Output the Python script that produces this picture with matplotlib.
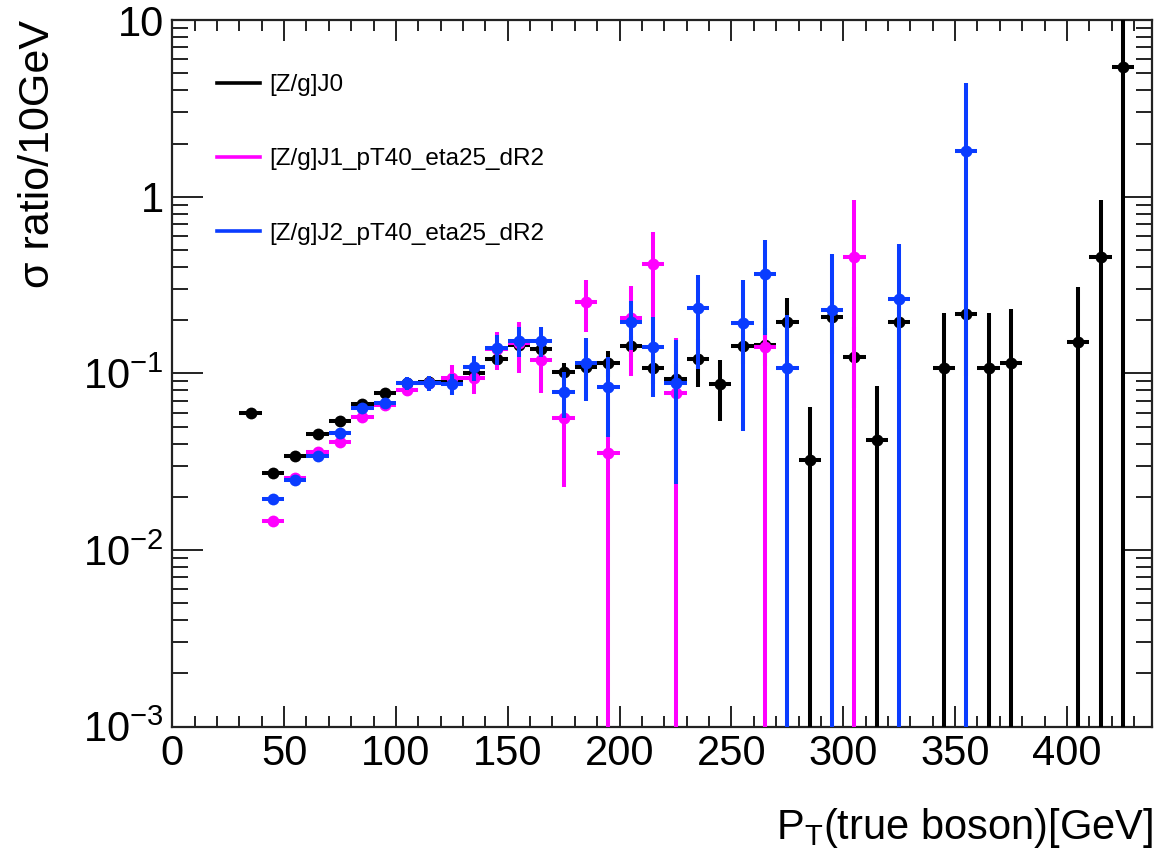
import numpy as np
import matplotlib
matplotlib.use("Agg")
import matplotlib.pyplot as plt
from matplotlib.lines import Line2D
from matplotlib.ticker import LogLocator, MultipleLocator, FuncFormatter, NullFormatter

plt.rcParams["font.family"] = ["Liberation Sans", "DejaVu Sans"]
plt.rcParams["mathtext.fontset"] = "custom"
plt.rcParams["mathtext.rm"] = "Liberation Sans"
plt.rcParams["mathtext.it"] = "Liberation Sans:italic"
plt.rcParams["mathtext.default"] = "regular"

# ---- data: bin centres [GeV], cross-section ratio per 10 GeV and its uncertainty ----
bin_half_width = 5.0

j0_pt = [35, 45, 55, 65, 75, 85, 95, 105, 115, 125, 135, 145, 155, 165, 175, 185, 195,
         205, 215, 225, 235, 245, 255, 265, 275, 285, 295, 305, 315, 325, 345, 355,
         365, 375, 405, 415, 425]
j0_val = [0.060, 0.0274, 0.0341, 0.0452, 0.054, 0.067, 0.077, 0.088, 0.089, 0.089,
          0.100, 0.121, 0.145, 0.137, 0.102, 0.109, 0.114, 0.1436, 0.107, 0.093,
          0.120, 0.0867, 0.1436, 0.145, 0.196, 0.0324, 0.209, 0.124, 0.042, 0.196,
          0.107, 0.217, 0.107, 0.114, 0.151, 0.454, 5.45]
j0_err = [0.002, 0.001, 0.001, 0.0015, 0.002, 0.002, 0.003, 0.003, 0.004, 0.005,
          0.006, 0.008, 0.010, 0.011, 0.012, 0.013, 0.019, 0.02, 0.02, 0.02,
          0.036, 0.033, 0.03, 0.035, 0.07, 0.0318, 0.08, 0.06, 0.043, 0.09,
          0.112, 0.12, 0.112, 0.117, 0.158, 0.51, 5.6]

j1_pt = [45, 55, 65, 75, 85, 95, 105, 115, 125, 135, 145, 155, 165, 175, 185, 195,
         205, 215, 225, 265, 305]
j1_val = [0.0145, 0.0255, 0.0357, 0.0411, 0.0569, 0.066, 0.0805, 0.088, 0.0937,
          0.0937, 0.138, 0.148, 0.119, 0.0557, 0.2547, 0.0353, 0.205, 0.416,
          0.0778, 0.1416, 0.454]
j1_err = [0.0007, 0.001, 0.0015, 0.002, 0.003, 0.004, 0.006, 0.008, 0.018, 0.017,
          0.033, 0.047, 0.042, 0.033, 0.083, 0.036, 0.108, 0.215, 0.08, 0.145, 0.51]

j2_pt = [45, 55, 65, 75, 85, 95, 105, 115, 125, 135, 145, 155, 165, 175, 185, 195,
         205, 215, 225, 235, 255, 265, 275, 295, 325, 355]
j2_val = [0.0194, 0.0249, 0.0341, 0.0458, 0.0634, 0.0678, 0.0879, 0.088, 0.087,
          0.108, 0.1386, 0.153, 0.153, 0.0789, 0.114, 0.0834, 0.196, 0.1416,
          0.0886, 0.2334, 0.192, 0.3656, 0.107, 0.2286, 0.2625, 1.82]
j2_err = [0.0008, 0.001, 0.0015, 0.002, 0.003, 0.004, 0.007, 0.009, 0.012, 0.017,
          0.027, 0.03, 0.03, 0.023, 0.044, 0.04, 0.06, 0.068, 0.065, 0.127, 0.145,
          0.2, 0.108, 0.245, 0.28, 2.6]

series_labels = ["[Z/g]J0", "[Z/g]J1_pT40_eta25_dR2", "[Z/g]J2_pT40_eta25_dR2"]
series_colors = ["#000000", "#ff00ff", "#0a3cff"]

y_tick_values = [1e-3, 1e-2, 1e-1, 1, 10]
y_tick_labels = ["$10^{-3}$", "$10^{-2}$", "$10^{-1}$", "1", "10"]

# ---- figure ----
fig = plt.figure(figsize=(11.56, 8.49), dpi=100)
ax = fig.add_axes([0.1490, 0.1441, 0.8475, 0.8323])

series = [(j0_pt, j0_val, j0_err), (j1_pt, j1_val, j1_err), (j2_pt, j2_val, j2_err)]
for k, ((pt, val, err), col) in enumerate(zip(series, series_colors)):
    pt = np.asarray(pt, float)
    val = np.asarray(val, float)
    err = np.asarray(err, float)
    lo = np.where(err >= val, val - 1e-7, err)   # bars reaching zero run off the log axis
    ax.errorbar(pt, val, xerr=bin_half_width, yerr=[lo, err], fmt="o", color=col,
                ms=8.5, mew=0, elinewidth=2.9, capsize=0, zorder=3 + k)

ax.set_yscale("log")
ax.set_ylim(1e-3, 10)
ax.set_xlim(0, 438)

ax.xaxis.set_major_locator(MultipleLocator(50))
ax.xaxis.set_minor_locator(MultipleLocator(10))
ax.yaxis.set_major_locator(LogLocator(base=10, numticks=10))
ax.yaxis.set_minor_locator(LogLocator(base=10, subs=np.arange(2, 10), numticks=20))
ax.yaxis.set_major_formatter(FuncFormatter(
    lambda v, p: dict(zip(y_tick_values, y_tick_labels)).get(
        min(y_tick_values, key=lambda t: abs(np.log10(t) - np.log10(v))), "")))
ax.yaxis.set_minor_formatter(NullFormatter())

spine_col = "#222222"
for s in ax.spines.values():
    s.set_linewidth(1.6)
    s.set_color(spine_col)

ax.tick_params(which="both", direction="in", top=True, right=True,
               colors=spine_col, width=1.4, labelcolor="black", labelsize=30)
ax.tick_params(axis="x", which="major", length=15, pad=5)
ax.tick_params(axis="x", which="minor", length=8)
ax.tick_params(axis="y", which="major", length=22, pad=6)
ax.tick_params(axis="y", which="minor", length=11.5)

ax.set_xlabel("P$_{T}$(true boson)[GeV]", fontsize=30, loc="right")
ax.xaxis.set_label_coords(1.001, -0.112)
ax.set_ylabel("σ ratio/10GeV", fontsize=31, loc="top")
ax.yaxis.set_label_coords(-0.117, 1.0)

handles = [Line2D([], [], color=c, lw=2.6) for c in series_colors]
fig.legend(handles, series_labels, loc="upper left",
           bbox_to_anchor=(216.7 / 1156, 1 - 74 / 849), bbox_transform=fig.transFigure,
           frameon=False, fontsize=17.5, labelspacing=2.15, handlelength=1.78,
           handletextpad=0.4, borderpad=0, borderaxespad=0)

fig.savefig("out.png", dpi=100)
